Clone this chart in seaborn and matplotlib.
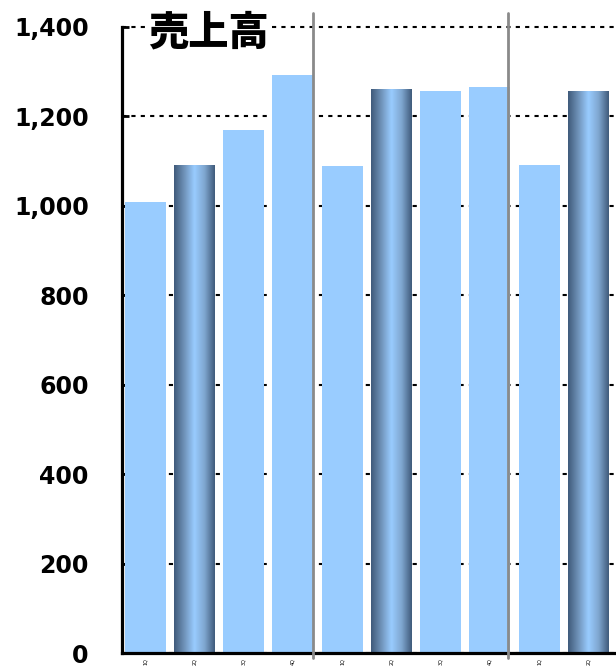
import numpy as np
import pandas as pd
import matplotlib
matplotlib.use('Agg')
import matplotlib.pyplot as plt
from matplotlib import ticker
from matplotlib.colors import LinearSegmentedColormap
import seaborn as sns

# data
periods = ['A-1Q', 'A-2Q', 'A-3Q', 'A-4Q', 'B-1Q', 'B-2Q', 'B-3Q', 'B-4Q', 'C-1Q', 'C-2Q']
tick_labels = ['1Q', '2Q', '3Q', '4Q', '1Q', '2Q', '3Q', '4Q', '1Q', '2Q']
sales = [1008, 1091, 1169, 1291, 1088, 1260, 1256, 1265, 1091, 1256]
highlight = [False, True, False, False, False, True, False, False, False, True]
separators = [3.41, 7.36]

light = '#99ccff'
dark = '#3f5a7a'

sns.set_style('white')
plt.rcParams['font.family'] = ['DejaVu Sans', 'Noto Sans CJK JP']
plt.rcParams['text.color'] = 'black'
plt.rcParams['xtick.color'] = 'black'
plt.rcParams['ytick.color'] = 'black'

df = pd.DataFrame({'period': periods, 'sales': sales})

fig = plt.figure(figsize=(6.16, 6.66), dpi=100)
ax = fig.add_axes([0.198, 0.0195, 0.802, 0.9405])

sns.barplot(data=df, x='period', y='sales', hue='period',
            palette=[light] * len(periods), legend=False,
            width=0.83, saturation=1, linewidth=0, ax=ax, zorder=2)

# cylinder look for highlighted bars
cyl = LinearSegmentedColormap.from_list('cyl', [dark, '#6f92b8', light, '#7fa6cf', dark])
grad = np.linspace(0, 1, 256).reshape(1, -1)
for patch, hl in zip(ax.patches, highlight):
    if not hl:
        continue
    x0 = patch.get_x()
    w = patch.get_width()
    h = patch.get_height()
    im = ax.imshow(grad, cmap=cyl, aspect='auto', extent=[x0, x0 + w, 0, h],
                   zorder=3, interpolation='bicubic')
    im.set_clip_path(patch)

ax.set_xlim(-0.47, 9.56)
ax.set_ylim(0, 1400)
ax.yaxis.set_major_locator(ticker.MultipleLocator(200))
ax.yaxis.set_major_formatter(ticker.StrMethodFormatter('{x:,.0f}'))

ax.grid(axis='y', color='black', linestyle=(0, (2, 2.5)), linewidth=1.5, zorder=0)
ax.set_axisbelow(True)
for gl in ax.get_ygridlines():
    gl.set_clip_on(False)

for s in ['top', 'right']:
    ax.spines[s].set_visible(False)
for s in ['left', 'bottom']:
    ax.spines[s].set_color('black')
    ax.spines[s].set_linewidth(2.3)
    ax.spines[s].set_zorder(5)

ax.tick_params(axis='y', direction='in', length=5, width=2, pad=24,
               labelsize=17, left=True, colors='black')
for lab in ax.get_yticklabels():
    lab.set_fontweight('bold')

ax.set_xticks(range(len(periods)))
ax.set_xticklabels(tick_labels, rotation=90, fontsize=3.5)
ax.tick_params(axis='x', length=0, pad=4)
ax.set_xlabel('')
ax.set_ylabel('')

for sx in separators:
    ax.axvline(sx, ymin=-0.008, ymax=1.022, color='#8a8a8a', linewidth=2,
               clip_on=False, zorder=6)

ax.text(0.176, 0.99, '売上高', transform=ax.transAxes, ha='center', va='center',
        fontsize=29, fontweight='heavy', family=['Noto Sans CJK JP', 'DejaVu Sans'],
        bbox=dict(facecolor='white', edgecolor='none', pad=1), zorder=7)

plt.savefig('out.png', dpi=100)
